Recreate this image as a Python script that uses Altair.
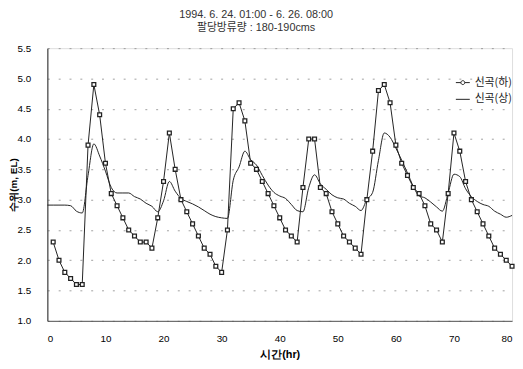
import altair as alt
import pandas as pd

# ---------------- data ----------------
series_names = ["신곡(하)", "신곡(상)"]

hours_up = list(range(0, 81))
level_up = [2.91, 2.91, 2.91, 2.91, 2.90, 2.81, 2.78, 3.40, 3.92, 3.72,
            3.47, 3.20, 3.11, 3.11, 3.11, 3.05, 3.01, 2.94, 2.89, 2.80,
            2.98, 3.30, 3.14, 3.02, 2.97, 2.93, 2.88, 2.82, 2.76, 2.72,
            2.70, 2.69, 3.32, 3.54, 3.80, 3.66, 3.57, 3.40, 3.24, 3.12,
            3.06, 3.02, 2.92, 2.82, 2.80, 3.20, 3.41, 3.26, 3.17, 3.08,
            3.03, 3.01, 2.94, 2.89, 2.82, 3.00, 3.12, 3.65, 4.10, 4.03,
            3.85, 3.65, 3.44, 3.22, 3.06, 3.03, 2.96, 2.88, 2.81, 3.11,
            3.42, 3.38, 3.18, 3.05, 2.97, 2.92, 2.89, 2.81, 2.76, 2.71,
            2.74]

hours_down = list(range(1, 81))
level_down = [2.3, 2.0, 1.8, 1.7, 1.6, 1.6, 3.9, 4.9, 4.4, 3.6,
              3.1, 2.9, 2.7, 2.5, 2.4, 2.3, 2.3, 2.2, 2.7, 3.3,
              4.1, 3.5, 3.0, 2.8, 2.6, 2.4, 2.2, 2.1, 1.9, 1.8,
              2.5, 4.5, 4.6, 4.3, 3.6, 3.5, 3.3, 3.1, 2.9, 2.7,
              2.5, 2.4, 2.3, 3.2, 4.0, 4.0, 3.2, 3.1, 2.8, 2.6,
              2.4, 2.3, 2.2, 2.1, 3.0, 3.8, 4.8, 4.9, 4.6, 3.9,
              3.6, 3.4, 3.2, 3.1, 2.9, 2.6, 2.5, 2.3, 3.1, 4.1,
              3.8, 3.3, 3.0, 2.8, 2.6, 2.4, 2.2, 2.1, 2.0, 1.9]

x_ticks = [0, 10, 20, 30, 40, 50, 60, 70, 80]
y_ticks = [1.0, 1.5, 2.0, 2.5, 3.0, 3.5, 4.0, 4.5, 5.0, 5.5]

title_lines = ["1994. 6. 24. 01:00 - 6. 26. 08:00", "팔당방류량 : 180-190cms"]
x_title = "시간(hr)"
y_title = "수위(m, EL)"

# ---------------- chart ----------------
FONT = "Liberation Sans, Noto Sans CJK KR"
INK = "#222222"

df_up = pd.DataFrame({"hr": hours_up, "level": level_up, "series": series_names[1]})
df_down = pd.DataFrame({"hr": hours_down, "level": level_down, "series": series_names[0]})
df_leg = pd.DataFrame({"series": series_names})

x_enc = alt.X("hr:Q", scale=alt.Scale(domain=[0, 80], nice=False, zero=False),
              axis=alt.Axis(values=x_ticks, title=x_title, grid=False, ticks=False,
                            labelPadding=13, titlePadding=5, domainColor="#555555"))
y_enc = alt.Y("level:Q", scale=alt.Scale(domain=[1.0, 5.5], nice=False, zero=False),
              axis=alt.Axis(values=y_ticks, format=".1f", title=y_title, grid=True,
                            ticks=False, labelPadding=17, titleX=-34, titleBaseline="middle",
                            titleFontSize=10,
                            gridDash=[2, 9], gridColor="#888888", gridOpacity=0.8,
                            domainColor=INK))

line_up = alt.Chart(df_up).mark_line(color=INK, strokeWidth=1, interpolate="monotone").encode(
    x=x_enc, y=y_enc)

line_down = alt.Chart(df_down).mark_line(color=INK, strokeWidth=1).encode(x=x_enc, y=y_enc)

pts_down = alt.Chart(df_down).mark_point(shape="square", size=15, filled=True, fill="white",
                                         stroke=INK, strokeWidth=1.3, opacity=1).encode(
    x=x_enc, y=y_enc)

path_marker_line = ("M-1,0L-0.28,0M0.28,0L1,0"
                    "M-0.28,0A0.28,0.28,0,1,1,0.28,0A0.28,0.28,0,1,1,-0.28,0Z")
path_line = "M-1,0L1,0"

legend_layer = alt.Chart(df_leg).mark_point(opacity=0, filled=False).encode(
    shape=alt.Shape("series:N",
                    scale=alt.Scale(domain=series_names, range=[path_marker_line, path_line]),
                    legend=alt.Legend(title=None, orient="none", legendX=414, legendY=27,
                                      symbolSize=200, symbolStrokeColor=INK,
                                      symbolFillColor="white", symbolStrokeWidth=1,
                                      symbolOpacity=1, labelFont="Noto Sans CJK KR",
                                      labelFontSize=11, labelColor=INK, rowPadding=4,
                                      labelOffset=4, padding=0))
)

chart = alt.layer(line_up, line_down, pts_down, legend_layer).properties(
    width=472, height=277,
    padding={"left": 40, "top": 38, "right": 3, "bottom": 38},
    autosize=alt.AutoSizeParams(type="none"),
    title=alt.TitleParams(text=title_lines, anchor="middle", dx=-24, offset=10,
                          font=FONT, fontSize=11, fontWeight="normal", color="#333333",
                          lineHeight=14),
).configure_view(stroke=INK, strokeWidth=1).configure_axis(
    labelFont=FONT, labelFontSize=10, labelColor=INK,
    titleFont=FONT, titleFontSize=11, titleFontWeight="normal", titleColor=INK
).configure(background="white")

chart.save("out.html", embed_options={"renderer": "svg", "actions": False})
